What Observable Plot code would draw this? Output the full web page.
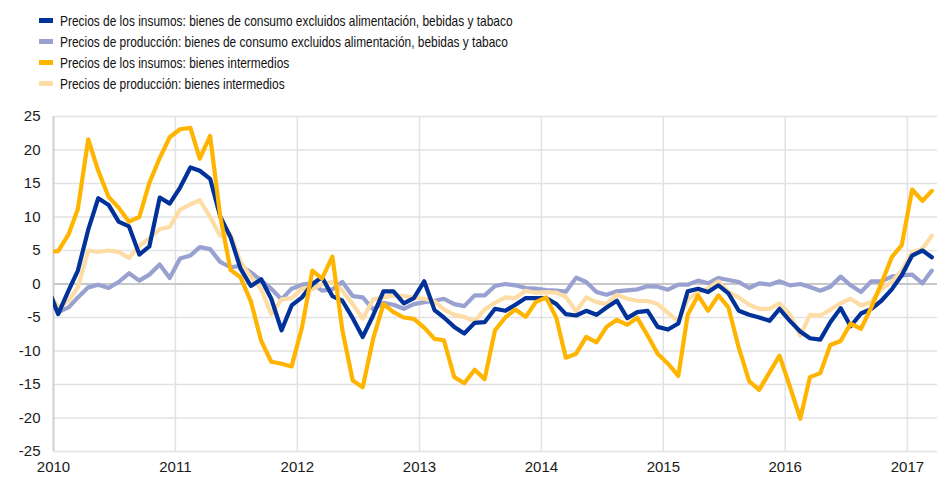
<!DOCTYPE html>
<html><head><meta charset="utf-8">
<script src="https://cdn.jsdelivr.net/npm/d3@7"></script>
<script src="https://cdn.jsdelivr.net/npm/@observablehq/plot@0.6"></script>
<style>
html,body{margin:0;padding:0;background:#fff;overflow:hidden;}
#wrap{width:939px;height:477px;position:relative;}
#legend{position:relative;height:100px;width:939px;font-family:"Liberation Sans",Arial,sans-serif;font-size:14.5px;color:#111;}
.item{position:absolute;left:39px;height:18px;display:flex;align-items:center;white-space:nowrap;}
.sw{width:14px;height:5px;margin-right:7px;flex:none;}
.tx{display:inline-block;transform:scaleX(0.822);transform-origin:left center;}
#chart svg{display:block;}
</style></head><body>
<div id="wrap">
<div id="legend"></div>
<div id="chart"></div>
</div>
<script>
// Series names (legend order)
const seriesNames = [
  "Precios de los insumos: bienes de consumo excluidos alimentación, bebidas y tabaco",
  "Precios de producción: bienes de consumo excluidos alimentación, bebidas y tabaco",
  "Precios de los insumos: bienes intermedios",
  "Precios de producción: bienes intermedios"
];
const seriesColors = ["#003299", "#98a1d0", "#ffb400", "#fddca5"];

// Monthly values, Dec 2009 … Mar 2017 (annual % changes)
const insumosConsumo = [
  -0.5,
  -4.5, -1.0, 2.0, 8.1, 12.8, 11.8, 9.3, 8.6, 4.4, 5.6, 12.9, 12.0,
  14.4, 17.4, 16.9, 15.7, 10.1, 7.0, 2.3, -0.3, 0.7, -2.2, -6.9, -3.2,
  -2.0, 0.0, 1.0, -1.8, -2.5, -5.1, -7.9, -4.7, -1.1, -1.1, -2.9, -2.1,
  0.4, -3.9, -5.0, -6.4, -7.4, -5.8, -5.7, -3.7, -4.0, -3.1, -2.1, -2.1,
  -2.1, -3.0, -4.5, -4.7, -4.0, -4.6, -3.5, -2.5, -5.1, -4.2, -4.0, -6.4,
  -6.8, -5.9, -1.1, -0.7, -1.2, -0.2, -1.4, -4.0, -4.6, -5.0, -5.5, -3.7,
  -5.5, -7.1, -8.1, -8.3, -5.7, -3.6, -6.3, -4.4, -3.7, -2.5, -0.8, 1.3,
  4.25, 5.0, 4.0
];
const produccionConsumo = [
  -2.2,
  -4.2, -3.5, -2.0, -0.5, -0.1, -0.6, 0.3, 1.6, 0.5, 1.4, 2.9, 0.9,
  3.8, 4.25, 5.5, 5.2, 3.3, 2.5, 2.7, 1.75, 0.5, -0.7, -2.3, -0.7,
  -0.1, 0.1, -1.0, -0.8, 0.3, -1.8, -2.0, -3.8, -2.8, -3.1, -3.7, -3.0,
  -2.7, -2.5, -2.2, -3.0, -3.3, -1.7, -1.7, -0.3, 0.0, -0.2, -0.6, -0.7,
  -0.9, -1.0, -1.15, 0.95, 0.3, -1.2, -1.6, -1.1, -0.95, -0.8, -0.35, -0.4,
  -0.85, -0.1, -0.1, 0.5, 0.1, 0.9, 0.6, 0.3, -0.6, 0.1, -0.1, 0.4,
  -0.2, 0.0, -0.45, -1.0, -0.4, 1.1, -0.2, -1.2, 0.4, 0.4, 1.1, 1.3,
  1.4, 0.1, 2.0
];
const insumosIntermedios = [
  4.8,
  4.9, 7.4, 11.2, 21.6, 16.9, 13.0, 11.4, 9.3, 10.0, 15.1, 18.8, 21.9,
  23.1, 23.3, 18.7, 22.1, 10.2, 2.1, 1.0, -2.6, -8.5, -11.6, -11.9, -12.3,
  -6.5, 2.0, 0.8, 4.1, -6.9, -14.4, -15.4, -8.2, -3.0, -4.2, -5.0, -5.2,
  -6.5, -8.2, -8.4, -13.9, -14.8, -12.8, -14.2, -6.9, -5.0, -3.8, -4.9, -2.7,
  -2.0, -5.1, -11.0, -10.4, -7.9, -8.7, -6.4, -5.35, -6.1, -5.05, -7.7, -10.4,
  -11.9, -13.7, -4.6, -1.7, -4.0, -1.7, -3.5, -9.5, -14.5, -15.8, -13.2, -10.7,
  -15.3, -20.1, -13.9, -13.3, -9.1, -8.5, -5.9, -6.7, -3.45, 0.1, 4.0, 5.8,
  14.1, 12.4, 13.9
];
const produccionIntermedios = [
  -0.9,
  -3.5, -2.5, -0.5, 5.0, 4.8, 5.0, 4.8, 3.9, 5.7, 6.8, 8.2, 8.5,
  11.1, 11.9, 12.5, 10.0, 7.2, 7.4, 3.3, 1.1, -0.8, -4.5, -2.3, -2.1,
  -0.7, -0.8, 0.0, 0.3, -1.0, -3.0, -5.2, -2.3, -2.0, -1.7, -1.8, -2.0,
  -2.2, -2.6, -3.8, -4.6, -4.9, -5.6, -3.8, -2.8, -2.0, -2.1, -1.0, -1.3,
  -1.2, -1.3, -1.9, -4.1, -2.0, -2.7, -3.0, -1.6, -2.2, -2.5, -2.55, -3.0,
  -4.3, -5.6, -2.3, -1.2, -0.7, 0.4, -1.2, -2.0, -3.1, -3.7, -3.7, -2.9,
  -4.5, -7.7, -4.6, -4.7, -3.85, -2.85, -2.2, -3.2, -2.7, -0.7, 0.3, 2.0,
  4.75, 5.25, 7.2
];

const yTicks = [-25, -20, -15, -10, -5, 0, 5, 10, 15, 20, 25];
const yearLabels = [2010, 2011, 2012, 2013, 2014, 2015, 2016, 2017];

// Months Dec 2009 – Mar 2017, plotted mid-month
const months = d3.utcMonths(new Date(Date.UTC(2009, 11, 1)), new Date(Date.UTC(2017, 3, 1)))
  .map(d => d3.utcDay.offset(d, 14));
const yearTicks = yearLabels.map(y => new Date(Date.UTC(y, 0, 1)));

const allSeries = [insumosConsumo, produccionConsumo, insumosIntermedios, produccionIntermedios];
const rows = allSeries.map((vals, i) => vals.map((v, j) => ({date: months[j], value: v, series: seriesNames[i]})));

// Legend
const legend = document.getElementById("legend");
const centers = [20.5, 41.5, 62.5, 83.5];
seriesNames.forEach((name, i) => {
  const it = document.createElement("div");
  it.className = "item";
  it.style.top = (centers[i] - 9) + "px";
  const sw = document.createElement("span");
  sw.className = "sw";
  sw.style.background = seriesColors[i];
  const tx = document.createElement("span");
  tx.className = "tx";
  tx.textContent = name;
  it.appendChild(sw); it.appendChild(tx);
  legend.appendChild(it);
});

const drawOrder = [1, 3, 0, 2];
const chart = Plot.plot({
  width: 939,
  height: 377,
  marginTop: 16,
  marginBottom: 26,
  marginLeft: 53,
  marginRight: 2,
  style: {fontFamily: "'Liberation Sans', Arial, sans-serif", fontSize: "15px", color: "#1a1a1a", background: "#fff"},
  x: {type: "utc", domain: [new Date(Date.UTC(2010, 0, 1)), new Date(Date.UTC(2017, 3, 1))]},
  y: {domain: [-25, 25]},
  marks: [
    Plot.gridY(yTicks, {stroke: "#e2e2e2", strokeOpacity: 1, strokeWidth: 1.5}),
    Plot.gridX(yearTicks.slice(1), {stroke: "#e2e2e2", strokeOpacity: 1, strokeWidth: 1.5}),
    Plot.ruleY([0], {stroke: "#c8c8c8", strokeWidth: 2.2}),
    Plot.ruleX([yearTicks[0]], {stroke: "#d0d0d0", strokeWidth: 2}),
    Plot.axisY(yTicks, {tickSize: 0, tickPadding: 13, label: null, fontSize: 15, tickFormat: d => String(d)}),
    Plot.axisX(yearTicks, {tickSize: 0, tickPadding: 10, label: null, fontSize: 15, tickFormat: d3.utcFormat("%Y")}),
    ...drawOrder.map(i => Plot.line(rows[i], {x: "date", y: "value", stroke: seriesColors[i], strokeWidth: 4.2, clip: true}))
  ]
});
document.getElementById("chart").appendChild(chart);
</script>
</body></html>
